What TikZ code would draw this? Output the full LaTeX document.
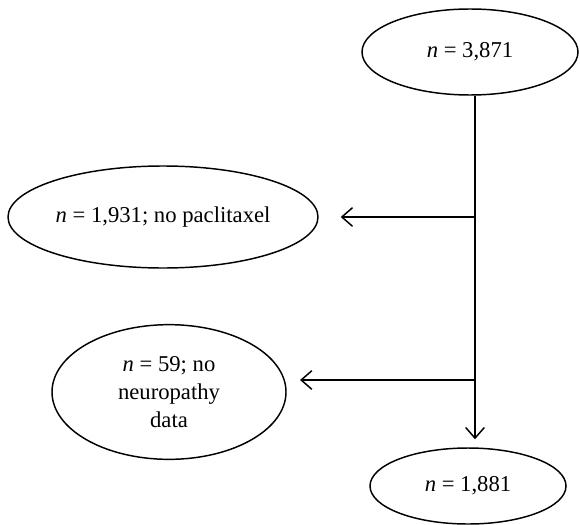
\documentclass[tikz,border=0pt]{standalone}
\usepackage{fontspec}
\setmainfont{Liberation Serif}
\usetikzlibrary{shapes.geometric,arrows.meta}

\begin{document}
\begin{tikzpicture}[x=0.75pt,y=-0.75pt,
  oval/.style={draw,ellipse,line width=1.1pt,inner sep=0pt,align=center,
    font=\fontsize{17}{21}\selectfont},
  flow/.style={line width=1.1pt,-{Straight Barb[length=8pt,width=14pt,line width=1.1pt]}}]
\useasboundingbox (0,0) rectangle (580,524);

% cohort boxes
\node[oval,minimum width=162pt,minimum height=64.5pt] (all) at (470,52) {\textit{n} = 3,871};
\node[oval,minimum width=232.5pt,minimum height=76.5pt] (nopac) at (163,217) {\textit{n} = 1,931; no paclitaxel};
\node[oval,minimum width=175.5pt,minimum height=101pt] (nodata) at (169,392) {\textit{n} = 59; no\\neuropathy\\data};
\node[oval,minimum width=147pt,minimum height=57pt] (final) at (468,486) {\textit{n} = 1,881};

% branch points on the trunk
\coordinate (split1) at (475,217);
\coordinate (split2) at (475,380);

\draw[flow,shorten >=6pt] (split1 |- all.south) -- (split1 |- final.north);
\draw[flow,shorten >=16.5pt] (split1) -- (split1 -| nopac.east);
\draw[flow,shorten >=10pt] (split2) -- (split2 -| nodata.east);

\end{tikzpicture}
\end{document}
